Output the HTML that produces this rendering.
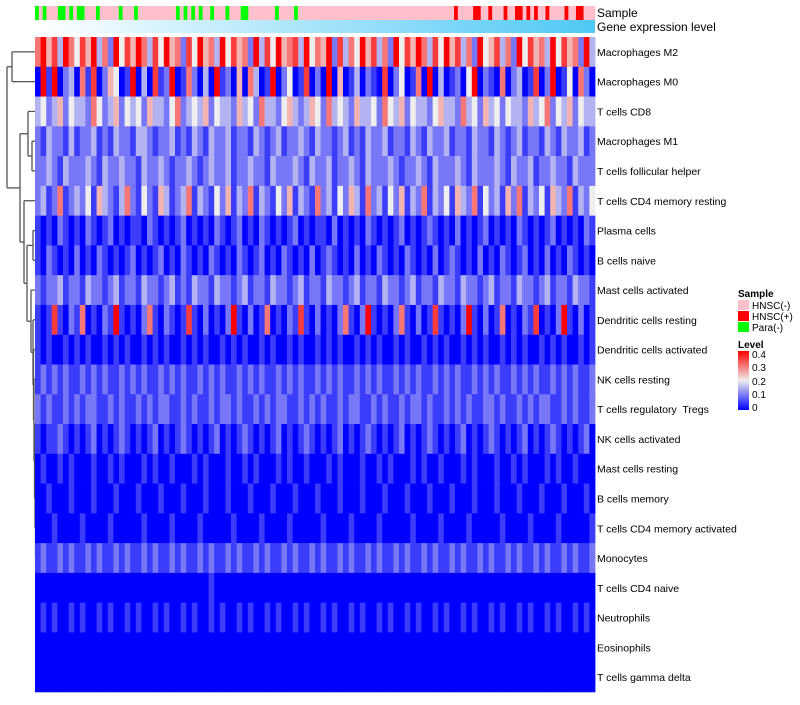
<!DOCTYPE html>
<html><head><meta charset="utf-8">
<style>
body{margin:0;background:#fff;width:800px;height:700px;overflow:hidden;font-family:"Liberation Sans",sans-serif;}
svg text{font-family:"Liberation Sans",sans-serif;white-space:pre;}
</style></head>
<body>
<svg id="chart" width="800" height="700" viewBox="0 0 800 700" xmlns="http://www.w3.org/2000/svg">
<defs>
<linearGradient id="geneGrad" x1="0" x2="1" y1="0" y2="0"><stop offset="0" stop-color="#ffffff"/><stop offset="1" stop-color="#4fc8f5"/></linearGradient>
<linearGradient id="levelGrad" x1="0" x2="0" y1="1" y2="0"><stop offset="0" stop-color="#0000ff"/><stop offset="0.5" stop-color="#eeeeee"/><stop offset="1" stop-color="#ff0000"/></linearGradient>
</defs>
<g id="dendro"></g>
<g id="sampleBar"></g>
<rect x="35" y="20" width="560" height="13" fill="url(#geneGrad)"/>
<text x="597" y="17" font-size="12" fill="#000">Sample</text>
<text x="597" y="31" font-size="12" fill="#000">Gene expression level</text>
<g id="cells"></g>
<g id="rowLabels"></g>
<g>
<text x="738" y="297" font-size="10" font-weight="bold">Sample</text>
<rect x="738" y="300" width="11" height="10" fill="#ffc0cb"/>
<text x="752" y="309" font-size="10">HNSC(-)</text>
<rect x="738" y="311" width="11" height="10" fill="#ff0000"/>
<text x="752" y="320" font-size="10">HNSC(+)</text>
<rect x="738" y="322" width="11" height="10" fill="#00ff00"/>
<text x="752" y="331" font-size="10">Para(-)</text>
<text x="738" y="348" font-size="10" font-weight="bold">Level</text>
<rect x="738" y="351" width="11" height="59" fill="url(#levelGrad)"/>
<text x="752" y="358" font-size="10">0.4</text>
<text x="752" y="371" font-size="10">0.3</text>
<text x="752" y="385" font-size="10">0.2</text>
<text x="752" y="398" font-size="10">0.1</text>
<text x="752" y="411" font-size="10">0</text>
</g>
</svg>
<script>
const rowNames = ["Macrophages M2","Macrophages M0","T cells CD8","Macrophages M1","T cells follicular helper","T cells CD4 memory resting","Plasma cells","B cells naive","Mast cells activated","Dendritic cells resting","Dendritic cells activated","NK cells resting","T cells regulatory  Tregs","NK cells activated","Mast cells resting","B cells memory","T cells CD4 memory activated","Monocytes","T cells CD4 naive","Neutrophils","Eosinophils","T cells gamma delta"];
// each digit d => value d*0.05
const rowValues = [
"6857386475836284758637485627485638475628374856738465827364857362847586374857362845736284756384756283",
"0818023061702540180307128016203081205063018024017020805013021070240160803012048021060230170280140620",
"3423524332642352434253324623435243325342633245323542634325334264352433245332634253424332534624352433",
"2132213122312132213321223121321322312213212312232132212312132231221321322312213221321231221321322312",
"2232132223213223221322321223212322312232213222321322312232132223212232132223213222321322312232213222",
"2312612324153213621421531236132142513261321425132162314253162314251326132415326142315261324153261324",
"1010210102101201011021010120101021012010210101201011020101021010120101210102010120101021010120101021",
"1021010201021010120101201021010210102101201021010201210102010210102101020121010201021012010201021010",
"2122312213221231221322123121322132212312213221231221322123122132212312213221322123122132212312213221",
"1017102160102181010261021017102010281020160102171020102610281010261020171010281020160102170102810201",
"1010010101001010100101010010101001010100101001010010101001010100101001010100101010010101001010100101",
"1212121121212112121211212121121212112121211212121121212112121211212121121212112121211212121121212112",
"2121121212211212112121221121211212212112121221121212112122112121121221211212121122121121212211212112",
"1011210101201012101012010121010120101210101201012101012010121010120101210101201012101012010121010120",
"0100101000100101000101001000101000100101000101001000101000100101000101001000101000100101000101001000",
"0010001000100010001000100010001000100010001000100010001000100010001000100010001000100010001000100010",
"0001000010000100000100001000010000010000100001000001000010000100000100001000010000010000100001000001",
"1211212112121121211212112121121211212112121121211212112121121211212112121121211212112121121211212112",
"0000000000000000000000000000000100000000000000000000000000000000000000000000000000000000000000000000",
"0101001010010100101001010010100101001010010100101001010010100101001010010100101001010010100101001010",
"0000000000000000000000000000000000000000000000000000000000000000000000000000000000000000000000000000",
"0000000000000000000000000000000000000000000000000000000000000000000000000000000000000000000000000000"
];
// p = HNSC(-), r = HNSC(+), g = Para(-)
const sampleGroups = "gpgpppggpgpggpppgpppppgpppgppppppppppgpgpgpgppgpppgpppggpppppppgppppgppppppppppppppppppppppppppppppppppppppppprpppprrpprppprpprrprprpprpppprpprrppp";
// dendrogram merges: [childA, childB, height-x]; leaves 0..21, internal nodes 22+
const merges = [[0,1,12],[3,4,32],[2,23,28],[6,7,33],[20,21,41],[19,26,40],[18,27,38],[17,28,37],[16,29,36],[15,30,35.5],[14,31,35],[12,13,36],[33,32,34.5],[11,34,34],[10,35,33.5],[9,36,33],[8,37,31],[25,38,27],[5,39,24],[24,40,20],[22,41,7]];

const NS="http://www.w3.org/2000/svg";
const X0=35,X1=595,Y0=37,Y1=692;
const rowH=(Y1-Y0)/rowNames.length;
function rowY(i){return Y0+i*rowH;}
function colorOf(v){
  const t=Math.max(0,Math.min(1,v/0.4));
  let r,g,b;
  if(t<0.5){const u=t/0.5;r=238*u;g=238*u;b=255-17*u;}
  else{const u=(t-0.5)/0.5;r=238+17*u;g=238*(1-u);b=238*(1-u);}
  return `rgb(${Math.round(r)},${Math.round(g)},${Math.round(b)})`;
}
const cells=document.getElementById('cells');
rowValues.forEach((s,i)=>{
  const n=s.length,w=(X1-X0)/n;
  for(let j=0;j<n;j++){
    const v=parseInt(s[j])*0.05;
    const r=document.createElementNS(NS,'rect');
    r.setAttribute('x',(X0+j*w).toFixed(2));r.setAttribute('y',rowY(i).toFixed(2));
    r.setAttribute('width',(w+0.4).toFixed(2));r.setAttribute('height',(rowH+0.3).toFixed(2));
    r.setAttribute('fill',colorOf(v));
    
    
    cells.appendChild(r);
  }
});
const lbl=document.getElementById('rowLabels');
rowNames.forEach((name,i)=>{
  const t=document.createElementNS(NS,'text');
  t.setAttribute('x',597);t.setAttribute('y',(rowY(i)+rowH/2+4).toFixed(1));
  t.setAttribute('font-size','10.5');t.textContent=name;
  
  
  lbl.appendChild(t);
});
const sb=document.getElementById('sampleBar');
const cmap={p:'#ffc0cb',r:'#ff0000',g:'#00ff00'};
const sw=(X1-X0)/sampleGroups.length;
for(let j=0;j<sampleGroups.length;j++){
  const r=document.createElementNS(NS,'rect');
  r.setAttribute('x',(X0+j*sw).toFixed(2));r.setAttribute('y',6);
  r.setAttribute('width',(sw+0.3).toFixed(2));r.setAttribute('height',14);
  r.setAttribute('fill',cmap[sampleGroups[j]]);
  
  
  sb.appendChild(r);
}
const dg=document.getElementById('dendro');
const pos={};
for(let i=0;i<rowNames.length;i++)pos[i]={x:X0,y:rowY(i)+rowH/2};
function line(x1,y1,x2,y2){
  const l=document.createElementNS(NS,'line');
  l.setAttribute('x1',x1);l.setAttribute('y1',y1);l.setAttribute('x2',x2);l.setAttribute('y2',y2);
  l.setAttribute('stroke','#555');l.setAttribute('stroke-width','1.3');
  
  
  dg.appendChild(l);
}
merges.forEach((m,k)=>{
  const a=pos[m[0]],b=pos[m[1]],h=m[2];
  line(h,a.y,a.x,a.y);line(h,b.y,b.x,b.y);line(h,a.y,h,b.y);
  pos[rowNames.length+k]={x:h,y:(a.y+b.y)/2};
});
</script>
</body></html>
